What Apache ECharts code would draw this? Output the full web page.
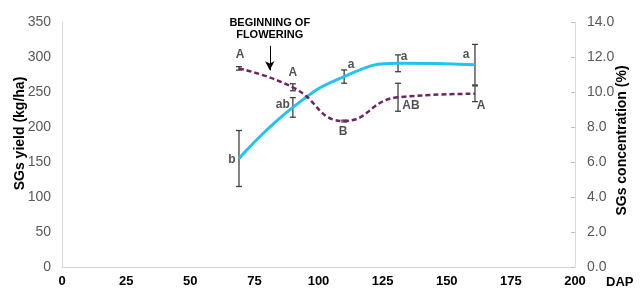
<!DOCTYPE html>
<html>
<head>
<meta charset="utf-8">
<script src="https://cdn.jsdelivr.net/npm/echarts@6/dist/echarts.min.js"></script>
<style>
html,body{margin:0;padding:0;background:#fff;}
#chart{width:643px;height:306px;}
</style>
</head>
<body>
<div id="chart"></div>
<script>
// ---- data ----
const dap = [69, 90, 110, 131, 161];
const yieldValues = [155, 228, 272, 291, 289];
const yieldErrors = [40, 14, 9.5, 12, 29];
const yieldLetters = ['b', 'ab', 'a', 'a', 'a'];
const concValues = [11.35, 10.27, 8.34, 9.7, 9.9];
const concErrors = [0.1, 0.2, 0.05, 0.8, 0.45];
const concLetters = ['A', 'A', 'B', 'AB', 'A'];
const xTicks = [0, 25, 50, 75, 100, 125, 150, 175, 200];
const flowerDAP = 81;
const flowerArrowFrom = 316;
const flowerArrowTo = 281;

// ---- label placement (style) ----
const yieldLabelOffsets = [[-7, 1], [-10, -3], [7, -12], [6, -7], [-9, -10]];
const concLabelOffsets = [[1, -14], [0, -15], [-1, 11], [13, 8], [6, 12]];

const FONT = 'Liberation Sans, Arial, sans-serif';
const chart = echarts.init(document.getElementById('chart'));

function errSeries(vals, errs, yIdx) {
  return {
    type: 'custom',
    yAxisIndex: yIdx,
    silent: true,
    z: 1,
    data: dap.map((d, i) => [d, vals[i], errs[i]]),
    renderItem: function (params, api) {
      const x = api.value(0), v = api.value(1), e = api.value(2);
      const top = api.coord([x, v + e]);
      const bot = api.coord([x, v - e]);
      const cw = 3;
      const st = { stroke: '#404040', lineWidth: 1.3 };
      return {
        type: 'group',
        children: [
          { type: 'line', shape: { x1: top[0], y1: top[1], x2: bot[0], y2: bot[1] }, style: st },
          { type: 'line', shape: { x1: top[0] - cw, y1: top[1], x2: top[0] + cw, y2: top[1] }, style: st },
          { type: 'line', shape: { x1: bot[0] - cw, y1: bot[1], x2: bot[0] + cw, y2: bot[1] }, style: st }
        ]
      };
    }
  };
}

function letterSeries(vals, letters, offsets, yIdx) {
  return {
    type: 'scatter',
    yAxisIndex: yIdx,
    symbolSize: 1,
    itemStyle: { color: 'rgba(0,0,0,0)' },
    silent: true,
    z: 5,
    data: dap.map((d, i) => ({
      value: [d, vals[i]],
      label: {
        show: true,
        formatter: letters[i],
        position: 'inside',
        offset: offsets[i],
        fontFamily: FONT,
        fontSize: 12,
        fontWeight: 'bold',
        color: '#262626'
      }
    }))
  };
}

const option = {
  animation: false,
  grid: { left: 62, right: 68, top: 22, bottom: 39, containLabel: false, outerBoundsMode: 'none' },
  xAxis: {
    type: 'value',
    min: xTicks[0],
    max: xTicks[xTicks.length - 1],
    interval: 25,
    name: 'DAP',
    nameLocation: 'end',
    nameGap: 31,
    nameMoveOverlap: false,
    nameTextStyle: { fontFamily: FONT, fontSize: 13, fontWeight: 'bold', color: '#000', verticalAlign: 'top', padding: [9, 0, 0, 0] },
    axisLine: { show: true, lineStyle: { color: '#d9d9d9', width: 1 } },
    axisTick: { show: false },
    splitLine: { show: false },
    axisLabel: { fontFamily: FONT, fontSize: 13, fontWeight: 'bold', color: '#000', margin: 8 }
  },
  yAxis: [
    {
      type: 'value',
      min: 0, max: 350, interval: 50,
      name: 'SGs yield (kg/ha)',
      nameLocation: 'middle',
      nameGap: 35,
      nameRotate: 90,
      nameMoveOverlap: false,
      nameTextStyle: { fontFamily: FONT, fontSize: 14, fontWeight: 'bold', color: '#000', padding: [0, 0, 0, 22] },
      axisLine: { show: true, lineStyle: { color: '#d9d9d9', width: 1 } },
      axisTick: { show: false },
      splitLine: { show: false },
      axisLabel: { fontFamily: FONT, fontSize: 14, color: '#595959', margin: 11 }
    },
    {
      type: 'value',
      position: 'right',
      min: 0, max: 14, interval: 2,
      name: 'SGs concentration (%)',
      nameLocation: 'middle',
      nameGap: 40,
      nameRotate: 90,
      nameMoveOverlap: false,
      nameTextStyle: { fontFamily: FONT, fontSize: 14, fontWeight: 'bold', color: '#000', padding: [0, 0, 0, 8] },
      axisLine: { show: true, lineStyle: { color: '#d9d9d9', width: 1 } },
      axisTick: { show: true, inside: true, length: 4, lineStyle: { color: '#bfbfbf' } },
      splitLine: { show: false },
      axisLabel: { fontFamily: FONT, fontSize: 14, color: '#595959', margin: 12, formatter: v => v.toFixed(1) }
    }
  ],
  series: [
    errSeries(yieldValues, yieldErrors, 0),
    errSeries(concValues, concErrors, 1),
    {
      type: 'line',
      yAxisIndex: 0,
      smooth: 0.5,
      symbol: 'none',
      z: 3,
      lineStyle: { color: '#22c3ee', width: 3 },
      data: dap.map((d, i) => [d, yieldValues[i]]),
      markLine: {
        silent: true,
        symbol: ['none', 'arrow'],
        symbolSize: [7, 9],
        animation: false,
        lineStyle: { color: '#000', width: 1, type: 'solid' },
        label: {
          show: true,
          position: 'start',
          formatter: 'BEGINNING OF\nFLOWERING',
          fontFamily: FONT,
          fontSize: 11,
          fontWeight: 'bold',
          color: '#000',
          lineHeight: 12,
          align: 'center',
          distance: 5
        },
        data: [[{ coord: [flowerDAP, flowerArrowFrom] }, { coord: [flowerDAP, flowerArrowTo] }]]
      }
    },
    {
      type: 'line',
      yAxisIndex: 1,
      smooth: 0.5,
      symbol: 'none',
      z: 3,
      lineStyle: { color: '#6e2466', width: 2.5, type: [5, 3] },
      data: dap.map((d, i) => [d, concValues[i]])
    },
    letterSeries(yieldValues, yieldLetters, yieldLabelOffsets, 0),
    letterSeries(concValues, concLetters, concLabelOffsets, 1)
  ]
};
chart.setOption(option);
</script>
</body>
</html>
